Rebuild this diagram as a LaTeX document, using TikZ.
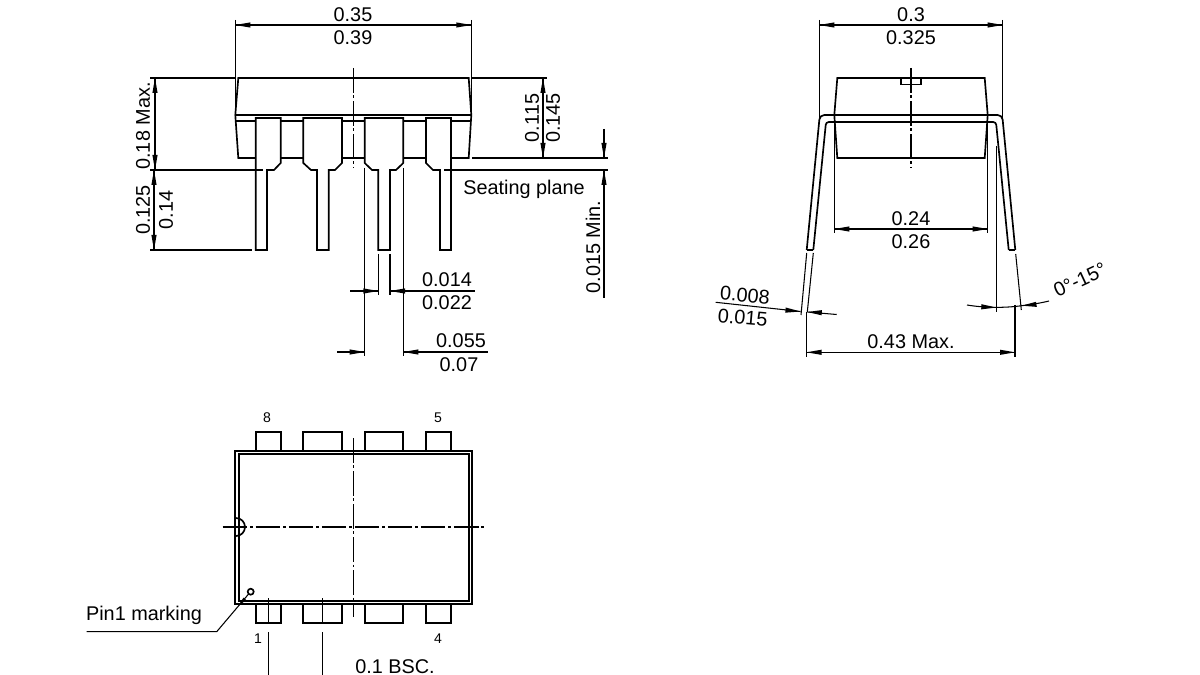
\documentclass[tikz,border=0pt]{standalone}
\usepackage{fontspec}
\setmainfont{Liberation Sans}
\begin{document}
\begin{tikzpicture}[x=0.02cm, y=0.02cm]
    \tikzstyle{every node}+=[inner sep=0pt, font=\fontsize{11.3}{13}\selectfont]
    \tikzstyle{outline}=[black, line width=0.95pt, line join=miter]
    \tikzstyle{dimline}=[black, line width=0.6pt]
    \tikzstyle{centerline}=[black, line width=0.6pt, dash pattern=on 14pt off 1.6pt on 1.6pt off 1.6pt]
    \tikzstyle{pinlabel}=[font=\fontsize{8}{9}\selectfont]
    \useasboundingbox (0,0) rectangle (1200,-675);
    % front view
    \draw [outline] (255.7,-158) -- (238.3,-158) -- (235.3,-115) -- (238.3,-78) -- (468.7,-78) -- (471.3,-115) -- (468.7,-158) -- (451,-158);
    \draw [outline] (280.7,-158) -- (303.3,-158);
    \draw [outline] (342,-158) -- (364.7,-158);
    \draw [outline] (403.3,-158) -- (426,-158);
    \draw [outline] (235.3,-115) -- (471.3,-115);
    \draw [outline] (235.6,-120.7) -- (255.7,-120.7);
    \draw [outline] (280.7,-120.7) -- (303.3,-120.7);
    \draw [outline] (342,-120.7) -- (364.7,-120.7);
    \draw [outline] (403.3,-120.7) -- (426,-120.7);
    \draw [outline] (451,-120.7) -- (471,-120.7);
    \draw [outline] (255.7,-250) -- (255.7,-118) -- (280.7,-118) -- (280.7,-163) -- (274,-170) -- (267,-170) -- (267,-250) -- cycle;
    \draw [outline] (317,-250) -- (317,-170) -- (311,-170) -- (303.3,-163) -- (303.3,-118) -- (342,-118) -- (342,-163) -- (335,-170) -- (328.7,-170) -- (328.7,-250) -- cycle;
    \draw [outline] (378.3,-250) -- (378.3,-170) -- (372,-170) -- (364.7,-163) -- (364.7,-118) -- (403.3,-118) -- (403.3,-163) -- (396,-170) -- (390,-170) -- (390,-250) -- cycle;
    \draw [outline] (440,-250) -- (440,-170) -- (433,-170) -- (426,-163) -- (426,-118) -- (451,-118) -- (451,-250) -- cycle;
    \draw [centerline] (353.7,-68) -- (353.7,-168);
    % width of the body
    \draw [dimline] (235.3,-20) -- (235.3,-115);
    \draw [dimline] (471.3,-20) -- (471.3,-115);
    \draw [dimline] (235.3,-25) -- (471.3,-25);
    \fill [black] (235.3,-25) -- (250.3,-22.4) -- (250.3,-27.6);
    \fill [black] (471.3,-25) -- (456.3,-22.4) -- (456.3,-27.6);
    \draw (353,-14.5) node (widthmin) {0.35};
    \draw (353,-37.5) node (widthmax) {0.39};
    % heights on the left
    \draw [dimline] (150,-78) -- (235,-78);
    \draw [dimline] (150,-170) -- (263,-170);
    \draw [dimline] (150,-250) -- (252,-250);
    \draw [dimline] (155,-78) -- (155,-170);
    \fill [black] (155,-78) -- (152.4,-93) -- (157.6,-93);
    \fill [black] (155,-170) -- (152.4,-155) -- (157.6,-155);
    \draw [dimline] (154,-170) -- (154,-250);
    \fill [black] (154,-170) -- (151.4,-185) -- (156.6,-185);
    \fill [black] (154,-250) -- (151.4,-235) -- (156.6,-235);
    \draw (143,-126) node [rotate=90] (heightmax) {0.18 Max.};
    \draw (143,-210) node [rotate=90] (leadmin) {0.125};
    \draw (166,-210) node [rotate=90] (leadmax) {0.14};
    % heights on the right
    \draw [dimline] (471.3,-78) -- (547,-78);
    \draw [outline] (472,-158) -- (545,-158);
    \draw [dimline] (545,-158) -- (608,-158);
    \draw [dimline] (444,-170) -- (608,-170);
    \draw [dimline] (543,-78) -- (543,-158);
    \fill [black] (543,-78) -- (540.4,-93) -- (545.6,-93);
    \fill [black] (543,-158) -- (540.4,-143) -- (545.6,-143);
    \draw (532,-118) node [rotate=90] (bodymin) {0.115};
    \draw (553,-118) node [rotate=90] (bodymax) {0.145};
    \draw [dimline] (604,-129) -- (604,-158);
    \fill [black] (604,-158) -- (601.4,-143) -- (606.6,-143);
    \draw [dimline] (604,-170) -- (604,-298);
    \fill [black] (604,-170) -- (601.4,-185) -- (606.6,-185);
    \draw (524,-189.5) node (seating) {Seating plane};
    \draw (593,-247) node [rotate=90] (standoff) {0.015 Min.};
    % pin widths
    \draw [dimline] (378.3,-254) -- (378.3,-295);
    \draw [dimline] (390,-254) -- (390,-295);
    \draw [dimline] (350,-291) -- (378.3,-291);
    \draw [dimline] (390,-291) -- (475,-291);
    \fill [black] (378.3,-291) -- (363.3,-288.4) -- (363.3,-293.6);
    \fill [black] (390,-291) -- (405,-288.4) -- (405,-293.6);
    \draw (447,-280) node (pinmin) {0.014};
    \draw (447,-303) node (pinmax) {0.022};
    \draw [dimline] (364.7,-168) -- (364.7,-356);
    \draw [dimline] (403.3,-168) -- (403.3,-356);
    \draw [dimline] (337,-352) -- (364.7,-352);
    \draw [dimline] (403.3,-352) -- (488,-352);
    \fill [black] (364.7,-352) -- (349.7,-349.4) -- (349.7,-354.6);
    \fill [black] (403.3,-352) -- (418.3,-349.4) -- (418.3,-354.6);
    \draw (461,-341) node (shouldermin) {0.055};
    \draw (459,-365) node (shouldermax) {0.07};
    % side view
    \draw [outline] (837.3,-158) -- (834.3,-115) -- (837.3,-78) -- (984.7,-78) -- (987.7,-115) -- (984.7,-158) -- cycle;
    \draw [outline] (901.3,-78) -- (901.3,-84.5) -- (921.3,-84.5) -- (921.3,-78);
    \draw [centerline] (911,-68) -- (911,-168);
    \draw [outline, rounded corners=2.6pt] (806.7,-250) -- (819.8,-115) -- (1002.2,-115) -- (1015.3,-250);
    \draw [outline, rounded corners=1.6pt] (813.3,-250) -- (826,-122) -- (996,-122) -- (1008.7,-250);
    \draw [outline] (806.7,-250) -- (813.3,-250);
    \draw [outline] (1008.7,-250) -- (1015.3,-250);
    \draw [dimline] (819.3,-20) -- (819.3,-118);
    \draw [dimline] (1002.7,-20) -- (1002.7,-118);
    \draw [dimline] (819.3,-25) -- (1002.7,-25);
    \fill [black] (819.3,-25) -- (834.3,-22.4) -- (834.3,-27.6);
    \fill [black] (1002.7,-25) -- (987.7,-22.4) -- (987.7,-27.6);
    \draw (911,-14.5) node (rowmin) {0.3};
    \draw (911,-37.5) node (rowmax) {0.325};
    \draw [dimline] (834.3,-115) -- (834.3,-233);
    \draw [dimline] (987.7,-115) -- (987.7,-233);
    \draw [dimline] (834.3,-229) -- (987.7,-229);
    \fill [black] (834.3,-229) -- (849.3,-226.4) -- (849.3,-231.6);
    \fill [black] (987.7,-229) -- (972.7,-226.4) -- (972.7,-231.6);
    \draw (911,-218.5) node (bodywidthmin) {0.24};
    \draw (911,-241.5) node (bodywidthmax) {0.26};
    % lead thickness and angle
    \draw [dimline] (806.7,-253) -- (801,-315);
    \draw [dimline] (813.3,-253) -- (807.3,-312);
    \draw [dimline] (715.7,-302.3) -- (800.5,-311.5);
    \draw [dimline] (807.3,-312) -- (836.7,-314.5);
    \fill [black] (800.5,-311.5) -- (785.7,-307.5) -- (785.2,-312.7);
    \fill [black] (807.3,-312) -- (822,-310.1) -- (821.6,-315.3);
    \draw (745,-295) node [rotate=-5] (thickmin) {0.008};
    \draw (742.7,-317.5) node [rotate=-5] (thickmax) {0.015};
    \draw [dimline] (996.3,-146) -- (996.3,-311.7);
    \draw [dimline] (1015.7,-254) -- (1021.3,-310);
    \draw [dimline] (967,-305) .. controls (985,-308) and (1005,-308) .. (1021.7,-305.7) .. controls (1031,-304.6) and (1041,-303) .. (1049,-301);
    \fill [black] (996.3,-307.5) -- (981.4,-304.2) -- (981.2,-309.4);
    \fill [black] (1021.7,-305.7) -- (1036,-301.8) -- (1036.8,-306.9);
    \draw (1080,-280) node [rotate=25] (angle) {0°-15°};
    % overall width
    \draw [dimline] (806.5,-312) -- (806.5,-357);
    \draw [dimline] (1015,-305) -- (1015,-357);
    \draw [dimline] (806.5,-352.3) -- (1015,-352.3);
    \fill [black] (806.5,-352.3) -- (821.5,-349.7) -- (821.5,-354.9);
    \fill [black] (1015,-352.3) -- (1000,-349.7) -- (1000,-354.9);
    \draw (911,-341.7) node (overall) {0.43 Max.};
    % top view
    \draw [outline] (235.3,-451) rectangle (471.7,-604);
    \draw [outline] (238.7,-454.3) rectangle (468.7,-601);
    \draw [outline] (255.7,-451) -- (255.7,-431.7) -- (281,-431.7) -- (281,-451);
    \draw [outline] (303.3,-451) -- (303.3,-431.7) -- (342,-431.7) -- (342,-451);
    \draw [outline] (364.7,-451) -- (364.7,-431.7) -- (403.3,-431.7) -- (403.3,-451);
    \draw [outline] (426,-451) -- (426,-431.7) -- (451,-431.7) -- (451,-451);
    \draw [outline] (255.7,-604) -- (255.7,-623.3) -- (281,-623.3) -- (281,-604);
    \draw [outline] (303.3,-604) -- (303.3,-623.3) -- (342,-623.3) -- (342,-604);
    \draw [outline] (364.7,-604) -- (364.7,-623.3) -- (403.3,-623.3) -- (403.3,-604);
    \draw [outline] (426,-604) -- (426,-623.3) -- (451,-623.3) -- (451,-604);
    \draw (267,-417.5) node [pinlabel] (pineight) {8};
    \draw (438,-417.5) node [pinlabel] (pinfive) {5};
    \draw (258,-638.5) node [pinlabel] (pinone) {1};
    \draw (438,-638.5) node [pinlabel] (pinfour) {4};
    \draw [centerline] (353.3,-438) -- (353.3,-617);
    \draw [centerline] (222.7,-527) -- (484,-527);
    \draw [outline] (236,-518) arc (90:-90:9);
    \draw [outline] (250.7,-591.7) circle (3);
    \draw [dimline] (248.6,-594) -- (216.7,-631.7) -- (86.7,-631.7);
    \fill [black] (238.5,-605.5) -- (243.5,-597.6) -- (246.4,-600.2);
    \draw (144,-615.5) node (pinmark) {Pin1 marking};
    \draw [dimline] (268.3,-598) -- (268.3,-624);
    \draw [dimline] (268.3,-632) -- (268.3,-675);
    \draw [dimline] (322.7,-598) -- (322.7,-624);
    \draw [dimline] (322.7,-632) -- (322.7,-675);
    \draw (395,-667) node (pitch) {0.1 BSC.};
\end{tikzpicture}
\end{document}
